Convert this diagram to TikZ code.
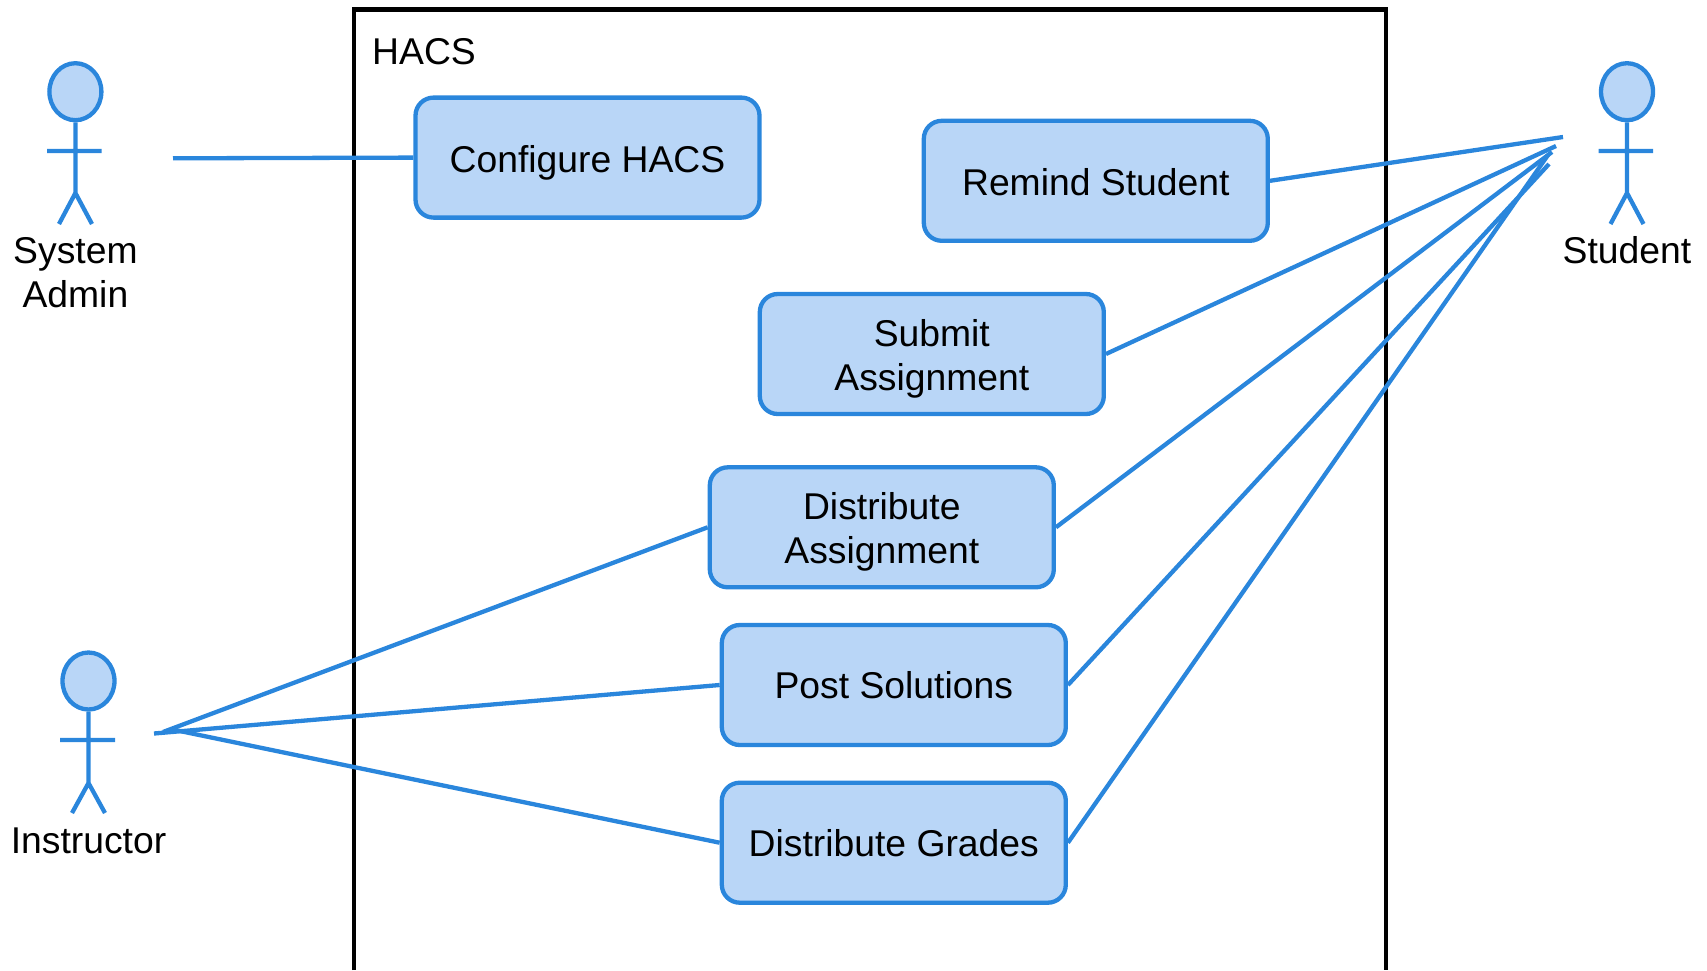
\documentclass[tikz,border=0pt]{standalone}
\usepackage{fontspec}
\setmainfont{Liberation Sans}
\usetikzlibrary{shapes.geometric}
\definecolor{uml}{HTML}{2A86DC}
\definecolor{umlfill}{HTML}{B9D6F7}
\newcommand{\txtline}[2]{\raisebox{-#1}[0pt][0pt]{#2}}
\tikzset{
  uc/.style={draw=uml,fill=umlfill,line width=4.3pt,rounded corners=18pt,minimum width=344pt,minimum height=120pt,align=center,inner sep=0pt,font=\fontsize{37.3}{44}\selectfont},
  link/.style={draw=uml,line width=4.3pt},
  stick/.style={draw=uml,line width=4.3pt},
  head/.style={draw=uml,fill=umlfill,line width=4.3pt,ellipse,minimum width=52pt,minimum height=57pt,inner sep=0pt},
  lbl/.style={align=center,inner sep=0pt,font=\fontsize{37.3}{44}\selectfont},
}
\begin{document}
\begin{tikzpicture}[x=1pt,y=-1pt]
\useasboundingbox (0,0) rectangle (1707,970);
% system boundary
\draw[black,line width=4.3pt,line join=miter] (354,970) -- (354,9.5) -- (1386,9.5) -- (1386,970);
\node[anchor=base west,inner sep=0pt,font=\fontsize{37.3}{44}\selectfont] (title) at (372,64.5) {HACS};
% use cases
\node[uc] (cfg) at (587.5,157.6) {\txtline{14.6pt}{Configure HACS}};
\node[uc] (rem) at (1095.8,180.8) {\txtline{14.3pt}{Remind Student}};
\node[uc] (sub) at (931.8,354) {\txtline{14.2pt}{Submit}\\\txtline{14.2pt}{Assignment}};
\node[uc] (dis) at (881.8,527.3) {\txtline{13.9pt}{Distribute}\\\txtline{13.9pt}{Assignment}};
\node[uc] (pos) at (893.8,685) {\txtline{13.8pt}{Post Solutions}};
\node[uc] (gra) at (893.8,842.7) {\txtline{14.1pt}{Distribute Grades}};
% actor: System Admin
\node[head] (h1) at (75.4,91.7) {};
\coordinate (b1) at (75.4,193);
\coordinate (a1l) at (47,151); \coordinate (a1r) at (101.5,151);
\coordinate (l1l) at (59,224); \coordinate (l1r) at (92,224);
\draw[stick] (h1.south) -- (b1) (a1l) -- (a1r) (l1l) -- (b1) -- (l1r);
\node[lbl] (t1) at (75.4,285.7) {\txtline{0pt}{System}\\\txtline{0pt}{Admin}};
% actor: Student
\node[head] (h2) at (1627,91.7) {};
\coordinate (b2) at (1627,193);
\coordinate (a2l) at (1598.5,151); \coordinate (a2r) at (1653,151);
\coordinate (l2l) at (1610.5,224); \coordinate (l2r) at (1643.5,224);
\draw[stick] (h2.south) -- (b2) (a2l) -- (a2r) (l2l) -- (b2) -- (l2r);
\node[lbl] (t2) at (1627,263.7) {\txtline{0pt}{Student}};
% actor: Instructor
\node[head] (h3) at (88.5,681) {};
\coordinate (b3) at (88.5,783);
\coordinate (a3l) at (60,740); \coordinate (a3r) at (115,740);
\coordinate (l3l) at (72,813); \coordinate (l3r) at (105,813);
\draw[stick] (h3.south) -- (b3) (a3l) -- (a3r) (l3l) -- (b3) -- (l3r);
\node[lbl] (t3) at (88.5,853.1) {\txtline{0pt}{Instructor}};
% free ends
\coordinate (e1) at (173,158.3);
\coordinate (s1) at (1563,137);
\coordinate (s2) at (1556,146);
\coordinate (s3) at (1552,152);
\coordinate (s4) at (1549,164);
\coordinate (s5) at (1548,155);
\coordinate (i1) at (163,732);
\coordinate (i2) at (154,733.5);
\coordinate (i3) at (175,730);
% connectors
\draw[link] (e1) -- (cfg.west);
\draw[link] (rem.east) -- (s1);
\draw[link] (sub.east) -- (s2);
\draw[link] (dis.east) -- (s3);
\draw[link] (pos.east) -- (s4);
\draw[link] (gra.east) -- (s5);
\draw[link] (dis.west) -- (i1);
\draw[link] (pos.west) -- (i2);
\draw[link] (gra.west) -- (i3);
\end{tikzpicture}
\end{document}
